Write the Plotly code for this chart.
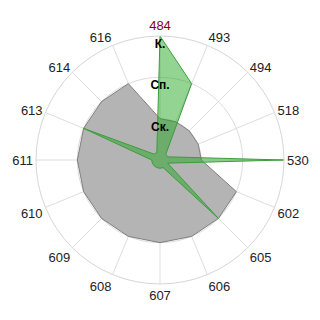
import plotly.graph_objects as go

categories = ["484", "493", "494", "518", "530", "602", "605", "606",
              "607", "608", "609", "610", "611", "613", "614", "616"]
gray_values = [1, 1, 1, 1, 1, 2, 2, 2, 2, 2, 2, 2, 2, 2, 2, 2]
green_values = [3, 2, 0.2, 0.2, 3, 0.2, 2, 0.2, 0.2, 0.2, 0.2, 0.2, 0.2, 2, 0.2, 0.2]
radial_ticks = [1, 2, 3]
radial_labels = ["Ск.", "Сп.", "К."]

tick_text = ["<span style='color:#8b0000'>%s</span>" % c if c == "484" else c
             for c in categories]

fig = go.Figure()
fig.add_trace(go.Scatterpolar(
    r=gray_values + gray_values[:1], theta=categories + categories[:1],
    mode="lines", fill="toself",
    fillcolor="rgb(180,180,180)", line=dict(color="#7f7f7f", width=1),
))
fig.add_trace(go.Scatterpolar(
    r=green_values + green_values[:1], theta=categories + categories[:1],
    mode="lines", fill="toself",
    fillcolor="rgba(30,165,30,0.48)", line=dict(color="#3c9c3c", width=1),
))
# radial level labels, drawn just inside each ring along the first axis
fig.add_trace(go.Scatterpolar(
    r=[t - 0.22 for t in radial_ticks], theta=[categories[0]] * len(radial_ticks),
    mode="text", text=radial_labels, textposition="middle center",
    textfont=dict(size=12, color="black", family="Liberation Sans, Arial, sans-serif",
                  weight="bold"),
    hoverinfo="skip",
))

fig.update_layout(
    width=320, height=320,
    margin=dict(l=36, r=36, t=36, b=36),
    paper_bgcolor="white",
    showlegend=False,
    font=dict(family="Liberation Sans, Arial, sans-serif", size=13, color="#222"),
    polar=dict(
        bgcolor="white",
        angularaxis=dict(
            type="category", categoryarray=categories,
            direction="clockwise", rotation=90,
            tickvals=categories, ticktext=tick_text,
            showline=True, linecolor="#d6d6d6", linewidth=1,
            gridcolor="#dddddd", gridwidth=1,
            ticks="", tickfont=dict(size=13, color="#222"),
        ),
        radialaxis=dict(
            range=[0, 3], tickvals=radial_ticks, showticklabels=False,
            angle=90, showline=False, ticks="",
            gridcolor="#dddddd", gridwidth=1,
        ),
    ),
)
fig.write_html("out.html")
